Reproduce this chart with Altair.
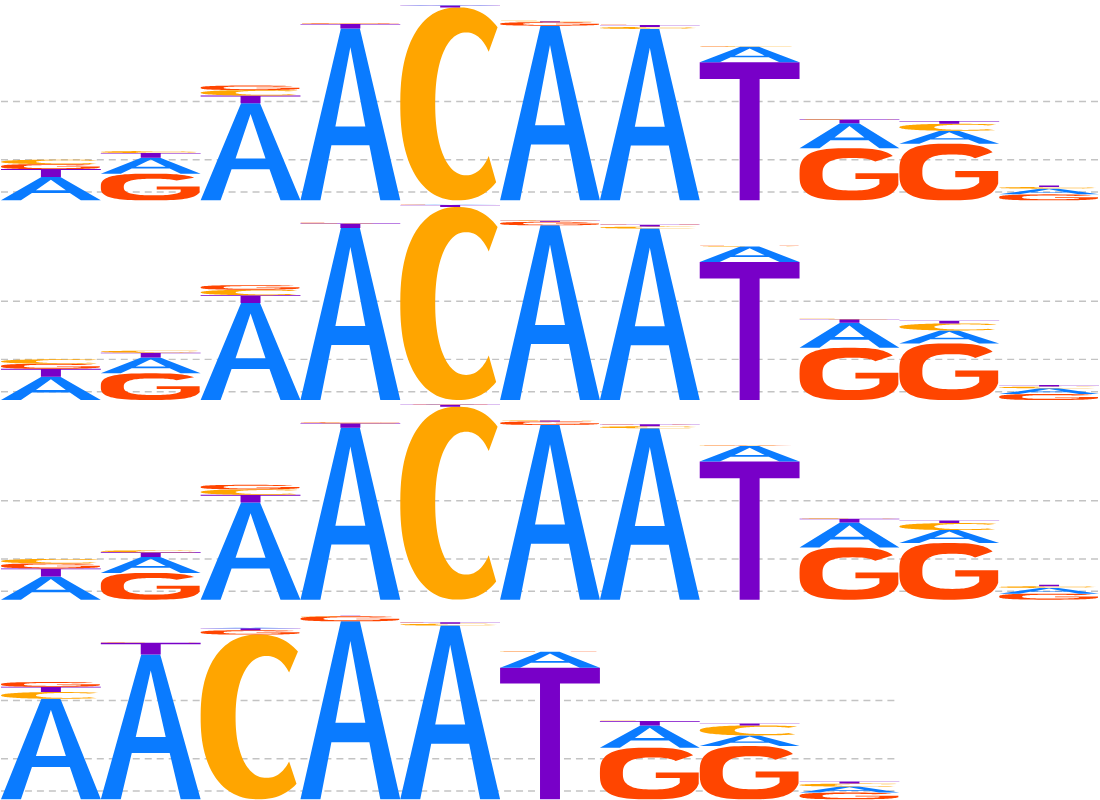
import math
import altair as alt
import pandas as pd

# ---------------- data (heights in bits) ----------------
LETTERS = ["A", "C", "G", "T"]
LETTER_COLORS = ["#0A7BFF", "#FFA500", "#FF4500", "#7800C8"]

# motif of rows 1-3 (11 positions)
m1_A = [0.233, 0.160, 0.973, 1.723, 0.003, 1.750, 1.717, 0.155, 0.250, 0.130, 0.057]
m1_C = [0.045, 0.020, 0.055, 0.004, 1.933, 0.005, 0.020, 0.005, 0.005, 0.070, 0.017]
m1_G = [0.050, 0.267, 0.045, 0.004, 0.002, 0.035, 0.003, 0.003, 0.523, 0.567, 0.060]
m1_T = [0.080, 0.047, 0.077, 0.045, 0.020, 0.010, 0.019, 1.383, 0.037, 0.027, 0.016]

# motif of row 4 (9 positions)
m2_A = [1.007, 1.450, 0.005, 1.783, 1.740, 0.160, 0.223, 0.107, 0.060]
m2_C = [0.067, 0.003, 1.650, 0.003, 0.018, 0.004, 0.004, 0.100, 0.030]
m2_G = [0.047, 0.003, 0.043, 0.050, 0.003, 0.003, 0.517, 0.533, 0.067]
m2_T = [0.053, 0.117, 0.020, 0.002, 0.015, 1.317, 0.043, 0.020, 0.020]

GRID_BITS = [0.083, 0.407, 0.99]

ROWS = [
    [m1_A, m1_C, m1_G, m1_T],
    [m1_A, m1_C, m1_G, m1_T],
    [m1_A, m1_C, m1_G, m1_T],
    [m2_A, m2_C, m2_G, m2_T],
]

# ---------------- layout ----------------
Y_MAX = 2.0
ROW_H = 200
COL_W = 100
PX_PER_BIT = ROW_H / Y_MAX


# ---------------- glyph outlines (unit box, y up) ----------------
def se(cx, cy, rx, ry, deg, n=2.7):
    t = math.radians(deg)
    c, s = math.cos(t), math.sin(t)
    e = 2.0 / n
    return (cx + rx * math.copysign(abs(c) ** e, c),
            cy + ry * math.copysign(abs(s) ** e, s))


def frange(a, b, step):
    out = []
    v = a
    if step > 0:
        while v <= b + 1e-9:
            out.append(v)
            v += step
    else:
        while v >= b - 1e-9:
            out.append(v)
            v += step
    return out


def glyph_polys(letter):
    if letter == "A":
        outer = [(0, 0), (0.2, 0), (0.31, 0.32), (0.69, 0.32), (0.8, 0), (1, 0),
                 (0.595, 1), (0.405, 1)]
        hole = [(0.5, 0.89), (0.65, 0.43), (0.35, 0.43)]
        return [outer, hole]
    if letter == "T":
        return [[(0, 1), (1, 1), (1, 0.88), (0.6, 0.88), (0.6, 0), (0.4, 0),
                 (0.4, 0.88), (0, 0.88)]]
    if letter == "C":
        outer = [se(0.58, 0.5, 0.58, 0.5, d, 2.3) for d in frange(50, 310, 3)]
        inner = [se(0.66, 0.5, 0.31, 0.37, d, 2.2) for d in frange(315, 45, -3)]
        return [outer + inner]
    # G
    outer = [se(0.5, 0.5, 0.5, 0.5, d, 3.0) for d in frange(36, 340, 4)]
    bar = [(0.99, 0.30), (0.99, 0.52), (0.56, 0.52), (0.56, 0.41), (0.80, 0.41)]
    inner = [se(0.53, 0.5, 0.3, 0.31, d) for d in frange(-30, -314, -4)]
    return [outer + bar + inner]


def glyph_path(letter, w_px, h_px):
    parts = []
    for poly in glyph_polys(letter):
        pts = [((u - 0.5) * w_px, -v * h_px) for (u, v) in poly]
        seg = "M" + " L".join(f"{x:.2f},{y:.3f}" for x, y in pts) + " Z"
        parts.append(seg)
    return " ".join(parts)


def row_frame(series):
    recs = []
    n = len(series[0])
    for i in range(n):
        items = sorted(
            [(LETTERS[k], series[k][i], LETTER_COLORS[k]) for k in range(4)],
            key=lambda t: -t[1])
        base = 0.0
        for letter, h, col in items:
            recs.append({
                "x": i + 0.5,
                "y": base,
                "letter": letter,
                "bits": h,
                "color": col,
                "path": glyph_path(letter, COL_W, h * PX_PER_BIT),
            })
            base += h
    return pd.DataFrame(recs), n


def row_chart(series):
    df, n = row_frame(series)
    gdf = pd.DataFrame({"g": GRID_BITS, "x0": [0] * len(GRID_BITS),
                        "x1": [n] * len(GRID_BITS)})
    xs = alt.Scale(domain=[0, n], nice=False, zero=False)
    ys = alt.Scale(domain=[0, Y_MAX], nice=False)
    grid = alt.Chart(gdf).mark_rule(
        color="#c3c3c3", strokeDash=[7, 5], strokeWidth=1.5
    ).encode(
        x=alt.X("x0:Q", scale=xs, axis=None),
        x2="x1:Q",
        y=alt.Y("g:Q", scale=ys, axis=None),
    )
    letters = alt.Chart(df).mark_point(
        filled=True, opacity=1, strokeWidth=0
    ).encode(
        x=alt.X("x:Q", scale=xs, axis=None),
        y=alt.Y("y:Q", scale=ys, axis=None),
        shape=alt.Shape("path:N", scale=None),
        color=alt.Color("color:N", scale=None),
        size=alt.value(4),
    )
    return alt.layer(grid, letters).properties(width=n * COL_W, height=ROW_H)


chart = alt.vconcat(*[row_chart(s) for s in ROWS], spacing=0).properties(
    padding=0
).configure_view(stroke=None)

chart.save("out.html", embed_options={"renderer": "svg", "actions": False})
